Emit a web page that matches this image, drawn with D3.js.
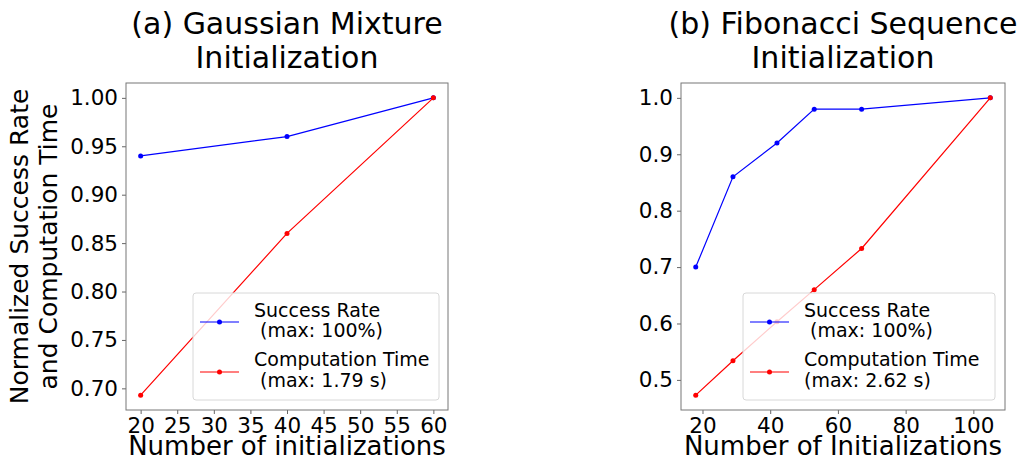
<!DOCTYPE html>
<html>
<head>
<meta charset="utf-8">
<script src="https://cdn.jsdelivr.net/npm/d3@7"></script>
<style>
  body { margin: 0; background: #fff; }
  svg text { font-family: "DejaVu Sans", sans-serif; fill: #000; }
</style>
</head>
<body>
<svg id="chart" width="1027" height="468"></svg>
<script>
// panel (a) Gaussian Mixture
var gaussInits = [20, 40, 60];
var gaussSuccess = [0.94, 0.96, 1.00];
var gaussTime = [0.693, 0.86, 1.00];
var gaussXTicks = [20, 25, 30, 35, 40, 45, 50, 55, 60];
var gaussYTicks = [0.70, 0.75, 0.80, 0.85, 0.90, 0.95, 1.00];

// panel (b) Fibonacci Sequence
var fibInits = [18, 29, 42, 53, 67, 105];
var fibSuccess = [0.70, 0.86, 0.92, 0.98, 0.98, 1.00];
var fibTime = [0.473, 0.534, 0.603, 0.660, 0.733, 1.00];
var fibXTicks = [20, 40, 60, 80, 100];
var fibYTicks = [0.5, 0.6, 0.7, 0.8, 0.9, 1.0];

var seriesNames = ["Success Rate", "Computation Time"];
var seriesColors = ["#0000ff", "#ff0000"];

var svg = d3.select("#chart");

drawPanel({
	left: 126, right: 448, top: 83, bottom: 410,
	xs: gaussInits, success: gaussSuccess, time: gaussTime,
	xTicks: gaussXTicks, yTicks: gaussYTicks, yFormat: d3.format(".2f"),
	title: ["(a) Gaussian Mixture", "Initialization"],
	xLabel: "Number of initializations",
	yLabel: ["Normalized Success Rate", "and Computation Time"],
	legend: { x: 193, y: 293, w: 246, h: 107 },
	legendText: [["Success Rate", " (max: 100%)"], ["Computation Time", " (max: 1.79 s)"]]
});

drawPanel({
	left: 681, right: 1005, top: 83, bottom: 410,
	xs: fibInits, success: fibSuccess, time: fibTime,
	xTicks: fibXTicks, yTicks: fibYTicks, yFormat: d3.format(".1f"),
	title: ["(b) Fibonacci Sequence", "Initialization"],
	xLabel: "Number of Initializations",
	yLabel: null,
	legend: { x: 743, y: 293, w: 252, h: 107 },
	legendText: [["Success Rate", " (max: 100%)"], ["Computation Time", "(max: 2.62 s)"]]
});

function padded(values) {
	var ext = d3.extent(values);
	var m = (ext[1] - ext[0]) * 0.05;
	return [ext[0] - m, ext[1] + m];
}

function drawPanel(p) {
	var x = d3.scaleLinear().domain(padded(p.xs)).range([p.left, p.right]);
	var y = d3.scaleLinear().domain(padded(p.success.concat(p.time))).range([p.bottom, p.top]);
	var g = svg.append("g");

	var xAxis = g.append("g").attr("transform", "translate(0," + p.bottom + ")")
		.call(d3.axisBottom(x).tickValues(p.xTicks).tickSize(4).tickPadding(4).tickFormat(d3.format("d")));
	var yAxis = g.append("g").attr("transform", "translate(" + p.left + ",0)")
		.call(d3.axisLeft(y).tickValues(p.yTicks).tickSize(4).tickPadding(4).tickFormat(p.yFormat));
	[xAxis, yAxis].forEach(function(a) {
		a.select(".domain").remove();
		a.selectAll(".tick line").attr("stroke", "#666");
		a.selectAll(".tick text").style("font-size", "21.5px").attr("fill", "#000");
	});

	g.append("rect").attr("x", p.left).attr("y", p.top)
		.attr("width", p.right - p.left).attr("height", p.bottom - p.top)
		.attr("fill", "none").attr("stroke", "#777").attr("stroke-width", 1);

	var line = d3.line().x(function(d) { return x(d[0]); }).y(function(d) { return y(d[1]); });
	[p.success, p.time].forEach(function(vals, i) {
		var pts = p.xs.map(function(v, j) { return [v, vals[j]]; });
		g.append("path").datum(pts).attr("d", line)
			.attr("fill", "none").attr("stroke", seriesColors[i]).attr("stroke-width", 1.2);
		g.selectAll(null).data(pts).enter().append("circle")
			.attr("cx", function(d) { return x(d[0]); })
			.attr("cy", function(d) { return y(d[1]); })
			.attr("r", 2.5).attr("fill", seriesColors[i]);
	});

	// title
	var cx = (p.left + p.right) / 2;
	var title = g.append("text").attr("text-anchor", "middle").style("font-size", "30px");
	p.title.forEach(function(t, i) {
		title.append("tspan").attr("x", cx).attr("y", 34 + i * 34).text(t);
	});

	g.append("text").attr("x", cx).attr("y", 455).attr("text-anchor", "middle")
		.style("font-size", "26px").text(p.xLabel);

	if (p.yLabel) {
		var yl = g.append("text").attr("text-anchor", "middle").style("font-size", "25px")
			.attr("transform", "translate(0," + ((p.top + p.bottom) / 2) + ") rotate(-90)");
		p.yLabel.forEach(function(t, i) {
			yl.append("tspan").attr("x", 0).attr("y", 28 + i * 28.5).text(t);
		});
	}

	// legend
	var L = p.legend;
	var lg = g.append("g").attr("transform", "translate(" + L.x + "," + L.y + ")");
	lg.append("rect").attr("width", L.w).attr("height", L.h).attr("rx", 3)
		.attr("fill", "#fff").attr("fill-opacity", 0.8).attr("stroke", "#d8d8d8");
	seriesNames.forEach(function(name, i) {
		var ly = 29 + i * 50;
		lg.append("line").attr("x1", 7).attr("x2", 46).attr("y1", ly).attr("y2", ly)
			.attr("stroke", seriesColors[i]).attr("stroke-width", 1.2);
		lg.append("circle").attr("cx", 26.5).attr("cy", ly).attr("r", 2.5).attr("fill", seriesColors[i]);
		var t = lg.append("text").style("font-size", "19px").style("white-space", "pre");
		p.legendText[i].forEach(function(s, k) {
			t.append("tspan").attr("x", 61).attr("y", 23.5 + i * 49.5 + k * 20.5).text(s);
		});
	});
}
</script>
</body>
</html>
